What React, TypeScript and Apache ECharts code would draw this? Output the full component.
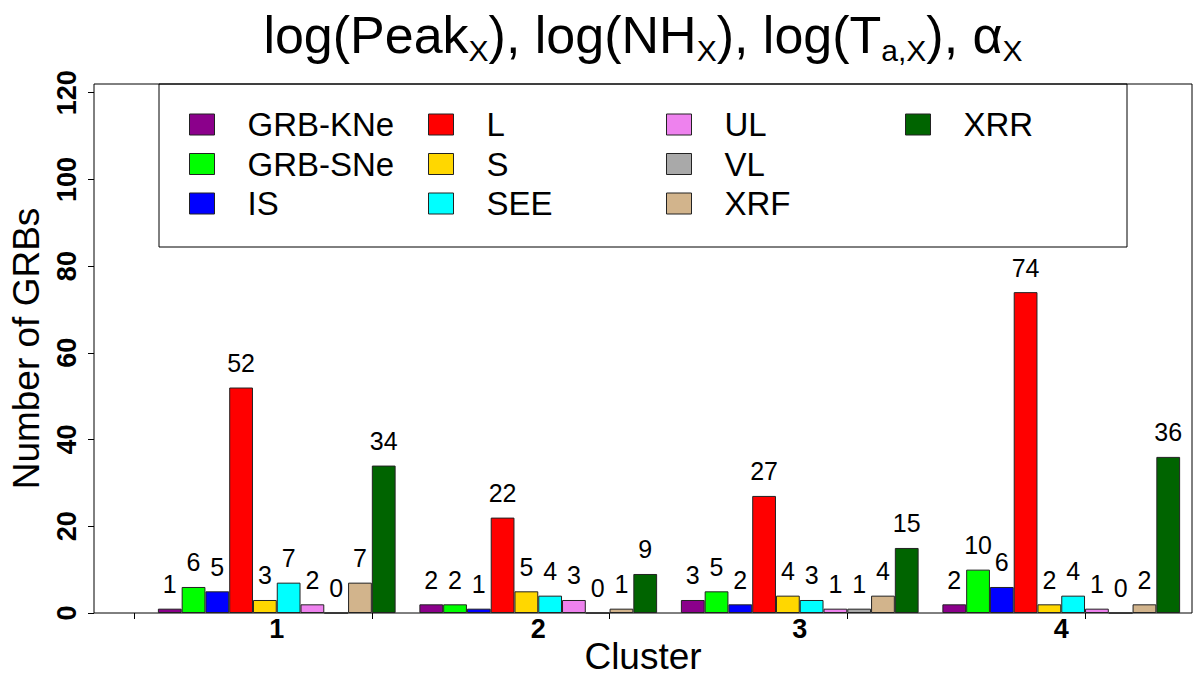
import React, { useEffect, useRef } from "react";
import * as echarts from "echarts";

const clusters = ["1", "2", "3", "4"];
const seriesNames = ["GRB-KNe", "GRB-SNe", "IS", "L", "S", "SEE", "UL", "VL", "XRF", "XRR"];
const grbKNe = [1, 2, 3, 2];
const grbSNe = [6, 2, 5, 10];
const isVals = [5, 1, 2, 6];
const lVals = [52, 22, 27, 74];
const sVals = [3, 5, 4, 2];
const seeVals = [7, 4, 3, 4];
const ulVals = [2, 3, 1, 1];
const vlVals = [0, 0, 1, 0];
const xrfVals = [7, 1, 4, 2];
const xrrVals = [34, 9, 15, 36];
const seriesValues = [grbKNe, grbSNe, isVals, lVals, sVals, seeVals, ulVals, vlVals, xrfVals, xrrVals];
const seriesColors = ["#8B008B", "#00FF00", "#0000FF", "#FF0000", "#FFD700", "#00FFFF", "#EE82EE", "#A9A9A9", "#D2B48C", "#006400"];
const yTicks = [0, 20, 40, 60, 80, 100, 120];
const xTicks = [0, 10, 20, 30, 40];
const legendColumns = [[0, 1, 2], [3, 4, 5], [6, 7, 8], [9]];

const FONT = "'Liberation Sans', Arial, Helvetica, sans-serif";

export default function App() {
  const ref = useRef<HTMLDivElement>(null);
  useEffect(() => {
    if (!ref.current) return;
    const chart = echarts.init(ref.current, null, { renderer: "svg" });
    const legendLefts = [189, 428, 666, 905];
    const option: any = {
      animation: false,
      backgroundColor: "#fff",
      textStyle: { fontFamily: FONT },
      title: {
        text: "log(Peak{s|X}), log(NH{s|X}), log(T{s|a,X}), α{s|X}",
        left: 643,
        textAlign: "center",
        top: 5,
        padding: 0,
        textStyle: {
          fontFamily: FONT,
          fontSize: 52,
          fontWeight: "normal",
          color: "#000",
          lineHeight: 60,
          rich: {
            s: { fontFamily: FONT, fontSize: 30, color: "#000", lineHeight: 25, verticalAlign: "bottom" },
          },
        },
      },
      legend: legendColumns.map((col, i) => ({
        orient: "vertical",
        left: legendLefts[i],
        top: 108,
        padding: 0,
        itemWidth: 25,
        itemHeight: 21,
        itemGap: 6.5,
        icon: "rect",
        selectedMode: false,
        data: col.map((j) => seriesNames[j]),
        itemStyle: { borderColor: "#222", borderWidth: 1 },
        textStyle: { fontFamily: FONT, fontSize: 33, lineHeight: 21, color: "#000", padding: [0, 0, 0, 28] },
      })),
      graphic: [
        {
          type: "rect",
          shape: { x: 159, y: 84, width: 968, height: 163 },
          style: { fill: "none", stroke: "#000", lineWidth: 1 },
          z: 10,
        },
      ],
      grid: [
        { left: 146, right: 8, top: 84, bottom: 67, show: false },
        { left: 94, right: 8, top: 84, bottom: 67, show: true, borderColor: "#000", borderWidth: 1, backgroundColor: "transparent" },
      ],
      xAxis: [
        {
          type: "category",
          gridIndex: 0,
          data: clusters,
          axisLine: { show: false, onZero: false },
          axisTick: { show: false },
          axisLabel: { fontFamily: FONT, fontSize: 27, fontWeight: "bold", color: "#000", margin: 2 },
        },
        {
          type: "value",
          gridIndex: 1,
          min: -1.7,
          max: 44.5,
          axisLine: { show: false, onZero: false },
          splitLine: { show: false },
          axisLabel: { show: false },
          axisTick: { show: true, length: 6, customValues: xTicks, lineStyle: { color: "#000" } },
          name: "Cluster",
          nameLocation: "middle",
          nameGap: 25,
          nameTextStyle: { fontFamily: FONT, fontSize: 37, color: "#000" },
        },
      ],
      yAxis: [
        {
          type: "value",
          gridIndex: 0,
          min: 0,
          max: 122,
          show: false,
          axisLine: { onZero: false },
          splitLine: { show: false },
        },
        {
          type: "value",
          gridIndex: 1,
          min: 0,
          max: 122,
          axisLine: { show: false, onZero: false },
          splitLine: { show: false },
          axisTick: { show: true, length: 6, customValues: yTicks, lineStyle: { color: "#000" } },
          axisLabel: {
            customValues: yTicks,
            rotate: 90,
            fontFamily: FONT,
            fontSize: 27,
            fontWeight: "bold",
            color: "#000",
            margin: 14,
          },
          name: "Number of GRBs",
          nameLocation: "middle",
          nameGap: 46,
          nameTextStyle: { fontFamily: FONT, fontSize: 37, color: "#000" },
        },
      ],
      series: seriesNames.map((name, i) => ({
        name,
        type: "bar",
        xAxisIndex: 0,
        yAxisIndex: 0,
        data: seriesValues[i],
        barGap: "0%",
        barCategoryGap: "9.09%",
        itemStyle: { color: seriesColors[i], borderColor: "#222", borderWidth: 1 },
        label: {
          show: true,
          position: "top",
          distance: 12,
          fontFamily: FONT,
          fontSize: 25,
          color: "#000",
        },
      })),
    };
    chart.setOption(option);
    return () => chart.dispose();
  }, []);
  return <div ref={ref} style={{ position: "fixed", left: 0, top: 0, width: 1200, height: 680 }} />;
}
